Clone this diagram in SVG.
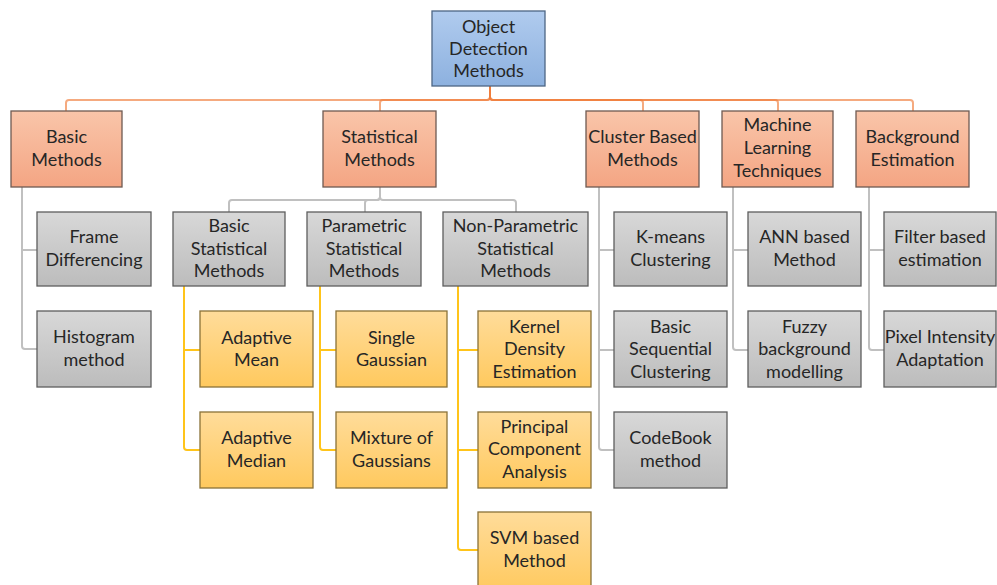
<svg xmlns="http://www.w3.org/2000/svg" width="997" height="585" viewBox="0 0 997 585">
<defs>
<linearGradient id="gBlue" x1="0" y1="0" x2="0" y2="1"><stop offset="0" stop-color="#b0cbee"/><stop offset="1" stop-color="#8db1df"/></linearGradient>
<linearGradient id="gSal" x1="0" y1="0" x2="0" y2="1"><stop offset="0" stop-color="#f9c5a9"/><stop offset="1" stop-color="#f4a583"/></linearGradient>
<linearGradient id="gGray" x1="0" y1="0" x2="0" y2="1"><stop offset="0" stop-color="#d8d8d8"/><stop offset="1" stop-color="#bcbcbc"/></linearGradient>
<linearGradient id="gYel" x1="0" y1="0" x2="0" y2="1"><stop offset="0" stop-color="#ffdc9a"/><stop offset="1" stop-color="#ffc95e"/></linearGradient>
</defs>
<style>
.t{font-family:Lato,"Open Sans","DejaVu Sans",sans-serif;font-size:18px;fill:#262626;text-anchor:middle}
.blue{fill:url(#gBlue);stroke:#4d6684;stroke-width:1.3}
.sal{fill:url(#gSal);stroke:#6e5a52;stroke-width:1.3}
.gray{fill:url(#gGray);stroke:#5e5e5e;stroke-width:1.3}
.yel{fill:url(#gYel);stroke:#8a7238;stroke-width:1.3}
.co{fill:none;stroke:#ef7d3a;stroke-opacity:0.65;stroke-width:2}
.cg{fill:none;stroke:#c0c0c0;stroke-width:2}
.cy{fill:none;stroke:#ffc41a;stroke-width:2}
</style>
<rect width="997" height="585" fill="#ffffff"/>
<g id="connectors">
<path class="co" d="M490,86 V97 Q490,100 487,100 H69 Q66,100 66,103 V111"/>
<path class="co" d="M490,86 V97 Q490,100 487,100 H383 Q380,100 380,103 V111"/>
<path class="co" d="M490,86 V97 Q490,100 493,100 H640 Q643,100 643,103 V111"/>
<path class="co" d="M490,86 V97 Q490,100 493,100 H775 Q778,100 778,103 V111"/>
<path class="co" d="M490,86 V97 Q490,100 493,100 H910 Q913,100 913,103 V111"/>
<path class="cg" d="M380,187 V197 Q380,200 377,200 H232 Q229,200 229,203 V212"/>
<path class="cg" d="M380,187 V197 Q380,200 377,200 H368 Q365,200 365,203 V212"/>
<path class="cg" d="M380,187 V197 Q380,200 383,200 H513 Q516,200 516,203 V212"/>
<path class="cg" d="M22,187 V346 Q22,349 25,349 H37 M22,250 H37"/>
<path class="cg" d="M599,187 V447 Q599,450 602,450 H614 M599,250 H614 M599,350 H614"/>
<path class="cg" d="M733,187 V347 Q733,350 736,350 H748 M733,250 H748"/>
<path class="cg" d="M869,187 V347 Q869,350 872,350 H884 M869,250 H884"/>
<path class="cy" d="M184,286 V447 Q184,450 187,450 H200 M184,350 H200"/>
<path class="cy" d="M320,286 V447 Q320,450 323,450 H336 M320,350 H336"/>
<path class="cy" d="M458,286 V547 Q458,550 461,550 H478 M458,350 H478 M458,450 H478"/>
</g>
<g id="root"><rect class="blue" x="432" y="11" width="113" height="75"/><text class="t"><tspan x="488.5" y="33">Object</tspan><tspan x="488.5" y="55">Detection</tspan><tspan x="488.5" y="77">Methods</tspan></text></g>
<g id="basic-methods"><rect class="sal" x="11" y="111" width="111" height="76"/><text class="t"><tspan x="66.5" y="143">Basic</tspan><tspan x="66.5" y="166">Methods</tspan></text></g>
<g id="statistical-methods"><rect class="sal" x="323" y="111" width="113" height="76"/><text class="t"><tspan x="379.5" y="143">Statistical</tspan><tspan x="379.5" y="166">Methods</tspan></text></g>
<g id="cluster-based"><rect class="sal" x="586" y="111" width="113" height="76"/><text class="t"><tspan x="642.5" y="143">Cluster Based</tspan><tspan x="642.5" y="166">Methods</tspan></text></g>
<g id="machine-learning"><rect class="sal" x="722" y="111" width="111" height="76"/><text class="t"><tspan x="777.5" y="131">Machine</tspan><tspan x="777.5" y="154">Learning</tspan><tspan x="777.5" y="177">Techniques</tspan></text></g>
<g id="background-estimation"><rect class="sal" x="856" y="111" width="113" height="76"/><text class="t"><tspan x="912.5" y="143">Background</tspan><tspan x="912.5" y="166">Estimation</tspan></text></g>
<g id="frame-differencing"><rect class="gray" x="37" y="212" width="114" height="74"/><text class="t"><tspan x="94" y="243">Frame</tspan><tspan x="94" y="266">Differencing</tspan></text></g>
<g id="histogram-method"><rect class="gray" x="37" y="311" width="114" height="76"/><text class="t"><tspan x="94" y="343">Histogram</tspan><tspan x="94" y="366">method</tspan></text></g>
<g id="basic-statistical"><rect class="gray" x="173" y="212" width="112" height="74"/><text class="t"><tspan x="229" y="232">Basic</tspan><tspan x="229" y="255">Statistical</tspan><tspan x="229" y="277">Methods</tspan></text></g>
<g id="parametric-statistical"><rect class="gray" x="307" y="212" width="114" height="74"/><text class="t"><tspan x="364" y="232">Parametric</tspan><tspan x="364" y="255">Statistical</tspan><tspan x="364" y="277">Methods</tspan></text></g>
<g id="non-parametric-statistical"><rect class="gray" x="443" y="212" width="145" height="74"/><text class="t"><tspan x="515.5" y="232">Non-Parametric</tspan><tspan x="515.5" y="255">Statistical</tspan><tspan x="515.5" y="277">Methods</tspan></text></g>
<g id="k-means"><rect class="gray" x="614" y="212" width="113" height="74"/><text class="t"><tspan x="670.5" y="243">K-means</tspan><tspan x="670.5" y="266">Clustering</tspan></text></g>
<g id="ann-based"><rect class="gray" x="748" y="212" width="113" height="74"/><text class="t"><tspan x="804.5" y="243">ANN based</tspan><tspan x="804.5" y="266">Method</tspan></text></g>
<g id="filter-based"><rect class="gray" x="884" y="212" width="112" height="74"/><text class="t"><tspan x="940" y="243">Filter based</tspan><tspan x="940" y="266">estimation</tspan></text></g>
<g id="adaptive-mean"><rect class="yel" x="200" y="311" width="113" height="76"/><text class="t"><tspan x="256.5" y="344">Adaptive</tspan><tspan x="256.5" y="366">Mean</tspan></text></g>
<g id="single-gaussian"><rect class="yel" x="336" y="311" width="111" height="76"/><text class="t"><tspan x="391.5" y="344">Single</tspan><tspan x="391.5" y="366">Gaussian</tspan></text></g>
<g id="kernel-density"><rect class="yel" x="478" y="311" width="113" height="76"/><text class="t"><tspan x="534.5" y="333">Kernel</tspan><tspan x="534.5" y="355">Density</tspan><tspan x="534.5" y="378">Estimation</tspan></text></g>
<g id="basic-sequential"><rect class="gray" x="614" y="311" width="113" height="76"/><text class="t"><tspan x="670.5" y="333">Basic</tspan><tspan x="670.5" y="355">Sequential</tspan><tspan x="670.5" y="378">Clustering</tspan></text></g>
<g id="fuzzy-background"><rect class="gray" x="748" y="311" width="113" height="76"/><text class="t"><tspan x="804.5" y="333">Fuzzy</tspan><tspan x="804.5" y="355">background</tspan><tspan x="804.5" y="378">modelling</tspan></text></g>
<g id="pixel-intensity"><rect class="gray" x="884" y="311" width="112" height="76"/><text class="t"><tspan x="940" y="343">Pixel Intensity</tspan><tspan x="940" y="366">Adaptation</tspan></text></g>
<g id="adaptive-median"><rect class="yel" x="200" y="412" width="113" height="76"/><text class="t"><tspan x="256.5" y="444">Adaptive</tspan><tspan x="256.5" y="467">Median</tspan></text></g>
<g id="mixture-gaussians"><rect class="yel" x="336" y="412" width="111" height="76"/><text class="t"><tspan x="391.5" y="444">Mixture of</tspan><tspan x="391.5" y="467">Gaussians</tspan></text></g>
<g id="pca"><rect class="yel" x="478" y="412" width="113" height="76"/><text class="t"><tspan x="534.5" y="433">Principal</tspan><tspan x="534.5" y="455">Component</tspan><tspan x="534.5" y="478">Analysis</tspan></text></g>
<g id="codebook"><rect class="gray" x="614" y="412" width="113" height="76"/><text class="t"><tspan x="670.5" y="444">CodeBook</tspan><tspan x="670.5" y="467">method</tspan></text></g>
<g id="svm-based"><rect class="yel" x="478" y="512" width="113" height="80"/><text class="t"><tspan x="534.5" y="544">SVM based</tspan><tspan x="534.5" y="567">Method</tspan></text></g>
</svg>
